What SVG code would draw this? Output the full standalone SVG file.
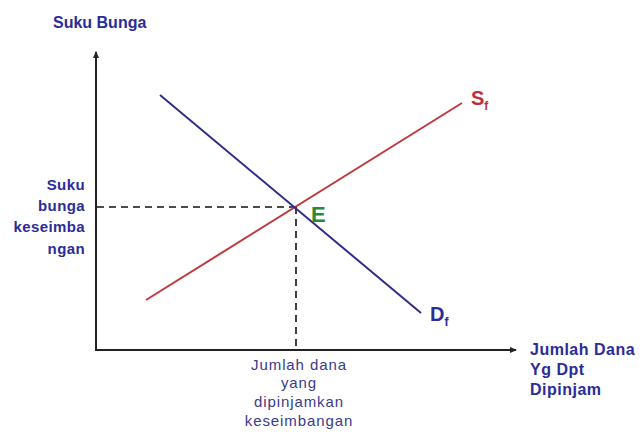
<svg xmlns="http://www.w3.org/2000/svg" width="642" height="434" viewBox="0 0 642 434">
<style>
.lbl{font-family:"Liberation Sans",Arial,sans-serif;font-weight:bold;font-size:16px;fill:#2b2b9a}
.lbl3{font-family:"Liberation Sans",Arial,sans-serif;font-weight:bold;font-size:15px;fill:#2b2b9a;letter-spacing:0.4px}
.lbl2{font-family:"Liberation Sans",Arial,sans-serif;font-size:15px;fill:#3a3a8a;letter-spacing:0.9px}
.axis{stroke:#222;stroke-width:2;fill:none}
.dash{stroke:#111;stroke-width:1.6;stroke-dasharray:7 5;fill:none}
.sym{font-family:"Liberation Sans",Arial,sans-serif;font-weight:bold}
</style>
<defs>
<marker id="ah" markerWidth="8" markerHeight="8" refX="6" refY="4" orient="auto" markerUnits="userSpaceOnUse">
<path d="M0,1 L7,4 L0,7 Z" fill="#222"/>
</marker>
</defs>
<rect width="642" height="434" fill="#fff"/>
<g id="connectors">
<line class="axis" x1="96" y1="351" x2="96" y2="52" marker-end="url(#ah)"/>
<line class="axis" x1="95" y1="350" x2="516" y2="350" marker-end="url(#ah)"/>
<line class="dash" x1="97" y1="207" x2="296" y2="207"/>
<line class="dash" x1="296" y1="207" x2="296" y2="349"/>
</g>
<g id="supply">
<line x1="146" y1="300" x2="462" y2="103" stroke="#c0393f" stroke-width="2"/>
<text class="sym" x="471" y="105" font-size="20" fill="#c0303a">S<tspan font-size="12" dy="5">f</tspan></text>
</g>
<g id="demand">
<line x1="160" y1="95" x2="421" y2="313" stroke="#2e2e8a" stroke-width="2"/>
<text class="sym" x="430" y="321" font-size="20" fill="#2b2b9a">D<tspan font-size="12" dy="5">f</tspan></text>
</g>
<g id="equilibrium">
<text class="sym" x="311" y="222" font-size="22" fill="#2a8a3a">E</text>
</g>
<g id="y-label">
<text class="lbl" x="53" y="28">Suku Bunga</text>
</g>
<g id="y-eq-label">
<text class="lbl3" x="85" y="190" text-anchor="end">Suku</text>
<text class="lbl3" x="85" y="211" text-anchor="end">bunga</text>
<text class="lbl3" x="85" y="232" text-anchor="end">keseimba</text>
<text class="lbl3" x="85" y="254" text-anchor="end">ngan</text>
</g>
<g id="x-eq-label">
<text class="lbl2" x="299" y="370" text-anchor="middle">Jumlah dana</text>
<text class="lbl2" x="299" y="388" text-anchor="middle">yang</text>
<text class="lbl2" x="299" y="407" text-anchor="middle">dipinjamkan</text>
<text class="lbl2" x="299" y="426" text-anchor="middle">keseimbangan</text>
</g>
<g id="x-label">
<text class="lbl" x="530" y="355" letter-spacing="0.5">Jumlah Dana</text>
<text class="lbl" x="530" y="375" letter-spacing="0.5">Yg Dpt</text>
<text class="lbl" x="530" y="395" letter-spacing="0.5">Dipinjam</text>
</g>
</svg>
